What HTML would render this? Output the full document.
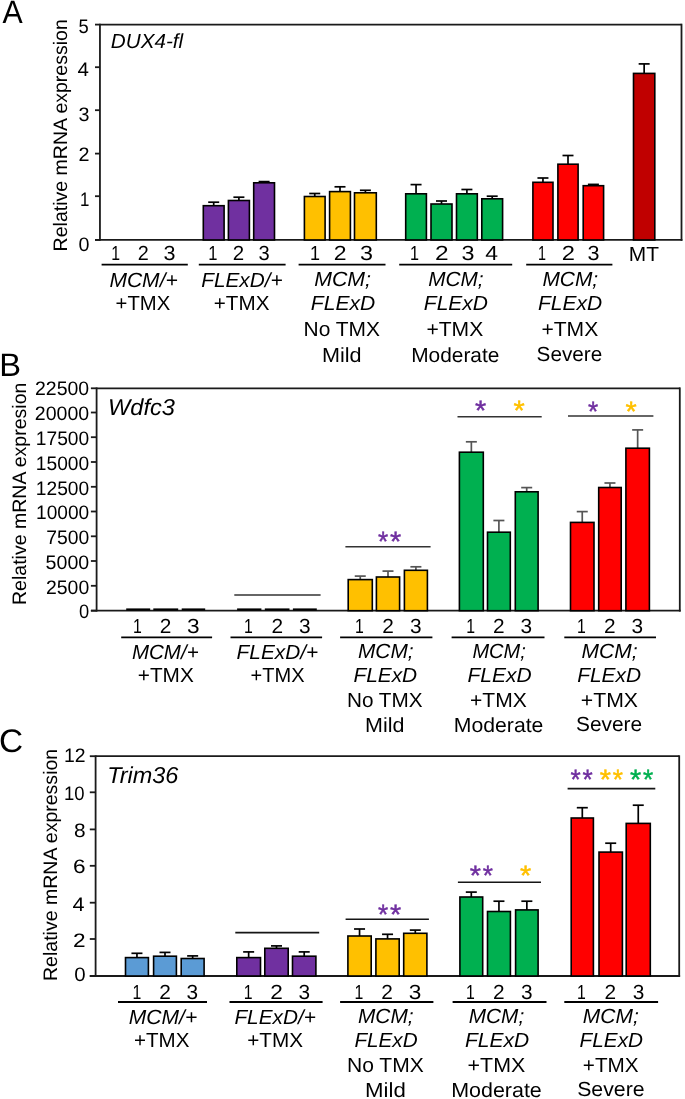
<!DOCTYPE html>
<html><head><meta charset="utf-8"><style>
html,body{margin:0;padding:0;background:#fff;width:685px;height:1099px;overflow:hidden}
svg{display:block;will-change:transform;filter:blur(0.35px)}
text{font-family:"Liberation Sans",sans-serif;text-rendering:geometricPrecision}
</style></head><body>
<svg width="685" height="1099" viewBox="0 0 685 1099">
<rect width="685" height="1099" fill="#fff"/>
<line x1="99.95" y1="24.60" x2="681.50" y2="24.60" stroke="#1a1a1a" stroke-width="1.8"/>
<line x1="681.50" y1="23.70" x2="681.50" y2="240.85" stroke="#1a1a1a" stroke-width="1.8"/>
<line x1="99.95" y1="23.70" x2="99.95" y2="240.85" stroke="#1a1a1a" stroke-width="1.8"/>
<line x1="95.00" y1="239.95" x2="682.40" y2="239.95" stroke="#1a1a1a" stroke-width="1.8"/>
<line x1="95.00" y1="24.60" x2="99.95" y2="24.60" stroke="#1a1a1a" stroke-width="1.8"/>
<line x1="95.00" y1="67.20" x2="99.95" y2="67.20" stroke="#1a1a1a" stroke-width="1.8"/>
<line x1="95.00" y1="110.20" x2="99.95" y2="110.20" stroke="#1a1a1a" stroke-width="1.8"/>
<line x1="95.00" y1="153.60" x2="99.95" y2="153.60" stroke="#1a1a1a" stroke-width="1.8"/>
<line x1="95.00" y1="196.20" x2="99.95" y2="196.20" stroke="#1a1a1a" stroke-width="1.8"/>
<line x1="95.00" y1="239.95" x2="99.95" y2="239.95" stroke="#1a1a1a" stroke-width="1.8"/>
<line x1="96.60" y1="388.30" x2="679.80" y2="388.30" stroke="#1a1a1a" stroke-width="1.8"/>
<line x1="679.80" y1="387.40" x2="679.80" y2="611.60" stroke="#1a1a1a" stroke-width="1.8"/>
<line x1="96.60" y1="387.40" x2="96.60" y2="611.60" stroke="#1a1a1a" stroke-width="1.8"/>
<line x1="90.90" y1="610.70" x2="680.70" y2="610.70" stroke="#1a1a1a" stroke-width="1.8"/>
<line x1="90.90" y1="388.30" x2="96.60" y2="388.30" stroke="#1a1a1a" stroke-width="1.8"/>
<line x1="90.90" y1="412.50" x2="96.60" y2="412.50" stroke="#1a1a1a" stroke-width="1.8"/>
<line x1="90.90" y1="437.20" x2="96.60" y2="437.20" stroke="#1a1a1a" stroke-width="1.8"/>
<line x1="90.90" y1="462.00" x2="96.60" y2="462.00" stroke="#1a1a1a" stroke-width="1.8"/>
<line x1="90.90" y1="486.80" x2="96.60" y2="486.80" stroke="#1a1a1a" stroke-width="1.8"/>
<line x1="90.90" y1="511.50" x2="96.60" y2="511.50" stroke="#1a1a1a" stroke-width="1.8"/>
<line x1="90.90" y1="536.30" x2="96.60" y2="536.30" stroke="#1a1a1a" stroke-width="1.8"/>
<line x1="90.90" y1="561.00" x2="96.60" y2="561.00" stroke="#1a1a1a" stroke-width="1.8"/>
<line x1="90.90" y1="585.80" x2="96.60" y2="585.80" stroke="#1a1a1a" stroke-width="1.8"/>
<line x1="90.90" y1="610.70" x2="96.60" y2="610.70" stroke="#1a1a1a" stroke-width="1.8"/>
<line x1="95.60" y1="756.20" x2="679.20" y2="756.20" stroke="#1a1a1a" stroke-width="1.8"/>
<line x1="679.20" y1="755.30" x2="679.20" y2="976.90" stroke="#1a1a1a" stroke-width="1.8"/>
<line x1="95.60" y1="755.30" x2="95.60" y2="976.90" stroke="#1a1a1a" stroke-width="1.8"/>
<line x1="89.80" y1="976.00" x2="680.10" y2="976.00" stroke="#1a1a1a" stroke-width="1.8"/>
<line x1="89.80" y1="756.20" x2="95.60" y2="756.20" stroke="#1a1a1a" stroke-width="1.8"/>
<line x1="89.80" y1="792.30" x2="95.60" y2="792.30" stroke="#1a1a1a" stroke-width="1.8"/>
<line x1="89.80" y1="829.40" x2="95.60" y2="829.40" stroke="#1a1a1a" stroke-width="1.8"/>
<line x1="89.80" y1="865.80" x2="95.60" y2="865.80" stroke="#1a1a1a" stroke-width="1.8"/>
<line x1="89.80" y1="902.70" x2="95.60" y2="902.70" stroke="#1a1a1a" stroke-width="1.8"/>
<line x1="89.80" y1="939.00" x2="95.60" y2="939.00" stroke="#1a1a1a" stroke-width="1.8"/>
<line x1="89.80" y1="976.00" x2="95.60" y2="976.00" stroke="#1a1a1a" stroke-width="1.8"/>
<line x1="213.70" y1="202.20" x2="213.70" y2="205.90" stroke="#000" stroke-width="1.7"/>
<line x1="208.20" y1="202.20" x2="219.20" y2="202.20" stroke="#000" stroke-width="1.7"/>
<rect x="203.30" y="205.70" width="20.80" height="34.25" fill="#7030A0" stroke="#000" stroke-width="1.6"/>
<line x1="238.90" y1="197.20" x2="238.90" y2="200.70" stroke="#000" stroke-width="1.7"/>
<line x1="233.40" y1="197.20" x2="244.40" y2="197.20" stroke="#000" stroke-width="1.7"/>
<rect x="228.40" y="200.50" width="21.00" height="39.45" fill="#7030A0" stroke="#000" stroke-width="1.6"/>
<line x1="264.10" y1="181.60" x2="264.10" y2="183.00" stroke="#000" stroke-width="1.7"/>
<line x1="258.60" y1="181.60" x2="269.60" y2="181.60" stroke="#000" stroke-width="1.7"/>
<rect x="253.70" y="182.80" width="20.80" height="57.15" fill="#7030A0" stroke="#000" stroke-width="1.6"/>
<line x1="314.75" y1="193.50" x2="314.75" y2="196.70" stroke="#000" stroke-width="1.7"/>
<line x1="309.25" y1="193.50" x2="320.25" y2="193.50" stroke="#000" stroke-width="1.7"/>
<rect x="304.40" y="196.50" width="20.70" height="43.45" fill="#FFC000" stroke="#000" stroke-width="1.6"/>
<line x1="340.00" y1="186.80" x2="340.00" y2="191.80" stroke="#000" stroke-width="1.7"/>
<line x1="334.50" y1="186.80" x2="345.50" y2="186.80" stroke="#000" stroke-width="1.7"/>
<rect x="329.60" y="191.60" width="20.80" height="48.35" fill="#FFC000" stroke="#000" stroke-width="1.6"/>
<line x1="365.40" y1="190.30" x2="365.40" y2="193.00" stroke="#000" stroke-width="1.7"/>
<line x1="359.90" y1="190.30" x2="370.90" y2="190.30" stroke="#000" stroke-width="1.7"/>
<rect x="354.50" y="192.80" width="21.80" height="47.15" fill="#FFC000" stroke="#000" stroke-width="1.6"/>
<line x1="416.05" y1="184.60" x2="416.05" y2="194.00" stroke="#000" stroke-width="1.7"/>
<line x1="410.55" y1="184.60" x2="421.55" y2="184.60" stroke="#000" stroke-width="1.7"/>
<rect x="405.70" y="193.80" width="20.70" height="46.15" fill="#00B050" stroke="#000" stroke-width="1.6"/>
<line x1="441.50" y1="201.00" x2="441.50" y2="204.20" stroke="#000" stroke-width="1.7"/>
<line x1="436.00" y1="201.00" x2="447.00" y2="201.00" stroke="#000" stroke-width="1.7"/>
<rect x="431.00" y="204.00" width="21.00" height="35.95" fill="#00B050" stroke="#000" stroke-width="1.6"/>
<line x1="466.90" y1="189.50" x2="466.90" y2="194.00" stroke="#000" stroke-width="1.7"/>
<line x1="461.40" y1="189.50" x2="472.40" y2="189.50" stroke="#000" stroke-width="1.7"/>
<rect x="456.50" y="193.80" width="20.80" height="46.15" fill="#00B050" stroke="#000" stroke-width="1.6"/>
<line x1="492.20" y1="196.20" x2="492.20" y2="199.00" stroke="#000" stroke-width="1.7"/>
<line x1="486.70" y1="196.20" x2="497.70" y2="196.20" stroke="#000" stroke-width="1.7"/>
<rect x="481.80" y="198.80" width="20.80" height="41.15" fill="#00B050" stroke="#000" stroke-width="1.6"/>
<line x1="542.95" y1="178.00" x2="542.95" y2="182.50" stroke="#000" stroke-width="1.7"/>
<line x1="537.45" y1="178.00" x2="548.45" y2="178.00" stroke="#000" stroke-width="1.7"/>
<rect x="532.90" y="182.30" width="20.10" height="57.65" fill="#FF0000" stroke="#000" stroke-width="1.6"/>
<line x1="568.00" y1="155.50" x2="568.00" y2="164.40" stroke="#000" stroke-width="1.7"/>
<line x1="562.50" y1="155.50" x2="573.50" y2="155.50" stroke="#000" stroke-width="1.7"/>
<rect x="557.90" y="164.20" width="20.20" height="75.75" fill="#FF0000" stroke="#000" stroke-width="1.6"/>
<line x1="593.40" y1="184.40" x2="593.40" y2="185.90" stroke="#000" stroke-width="1.7"/>
<line x1="587.90" y1="184.40" x2="598.90" y2="184.40" stroke="#000" stroke-width="1.7"/>
<rect x="583.20" y="185.70" width="20.40" height="54.25" fill="#FF0000" stroke="#000" stroke-width="1.6"/>
<line x1="644.15" y1="63.90" x2="644.15" y2="73.60" stroke="#000" stroke-width="1.7"/>
<line x1="638.65" y1="63.90" x2="649.65" y2="63.90" stroke="#000" stroke-width="1.7"/>
<rect x="633.50" y="73.40" width="21.30" height="166.55" fill="#C00000" stroke="#000" stroke-width="1.6"/>
<line x1="126.20" y1="609.50" x2="150.20" y2="609.50" stroke="#000" stroke-width="2.2"/>
<line x1="153.30" y1="609.50" x2="178.20" y2="609.50" stroke="#000" stroke-width="2.2"/>
<line x1="181.70" y1="609.50" x2="205.20" y2="609.50" stroke="#000" stroke-width="2.2"/>
<line x1="237.10" y1="609.50" x2="261.40" y2="609.50" stroke="#000" stroke-width="2.2"/>
<line x1="264.80" y1="609.50" x2="289.50" y2="609.50" stroke="#000" stroke-width="2.2"/>
<line x1="292.90" y1="609.50" x2="316.80" y2="609.50" stroke="#000" stroke-width="2.2"/>
<line x1="360.25" y1="576.10" x2="360.25" y2="579.80" stroke="#555" stroke-width="1.7"/>
<line x1="354.75" y1="576.10" x2="365.75" y2="576.10" stroke="#555" stroke-width="1.7"/>
<rect x="348.20" y="579.60" width="24.10" height="31.10" fill="#FFC000" stroke="#000" stroke-width="1.6"/>
<line x1="388.00" y1="571.10" x2="388.00" y2="577.20" stroke="#555" stroke-width="1.7"/>
<line x1="382.50" y1="571.10" x2="393.50" y2="571.10" stroke="#555" stroke-width="1.7"/>
<rect x="376.40" y="577.00" width="23.20" height="33.70" fill="#FFC000" stroke="#000" stroke-width="1.6"/>
<line x1="415.90" y1="566.80" x2="415.90" y2="570.50" stroke="#555" stroke-width="1.7"/>
<line x1="410.40" y1="566.80" x2="421.40" y2="566.80" stroke="#555" stroke-width="1.7"/>
<rect x="404.40" y="570.30" width="23.00" height="40.40" fill="#FFC000" stroke="#000" stroke-width="1.6"/>
<line x1="471.35" y1="441.80" x2="471.35" y2="452.40" stroke="#555" stroke-width="1.7"/>
<line x1="465.85" y1="441.80" x2="476.85" y2="441.80" stroke="#555" stroke-width="1.7"/>
<rect x="459.40" y="452.20" width="23.90" height="158.50" fill="#00B050" stroke="#000" stroke-width="1.6"/>
<line x1="498.90" y1="520.50" x2="498.90" y2="532.40" stroke="#555" stroke-width="1.7"/>
<line x1="493.40" y1="520.50" x2="504.40" y2="520.50" stroke="#555" stroke-width="1.7"/>
<rect x="487.50" y="532.20" width="22.80" height="78.50" fill="#00B050" stroke="#000" stroke-width="1.6"/>
<line x1="526.70" y1="487.60" x2="526.70" y2="492.00" stroke="#555" stroke-width="1.7"/>
<line x1="521.20" y1="487.60" x2="532.20" y2="487.60" stroke="#555" stroke-width="1.7"/>
<rect x="515.30" y="491.80" width="22.80" height="118.90" fill="#00B050" stroke="#000" stroke-width="1.6"/>
<line x1="582.25" y1="511.60" x2="582.25" y2="522.60" stroke="#555" stroke-width="1.7"/>
<line x1="576.75" y1="511.60" x2="587.75" y2="511.60" stroke="#555" stroke-width="1.7"/>
<rect x="570.50" y="522.40" width="23.50" height="88.30" fill="#FF0000" stroke="#000" stroke-width="1.6"/>
<line x1="609.95" y1="483.00" x2="609.95" y2="487.70" stroke="#555" stroke-width="1.7"/>
<line x1="604.45" y1="483.00" x2="615.45" y2="483.00" stroke="#555" stroke-width="1.7"/>
<rect x="598.70" y="487.50" width="22.50" height="123.20" fill="#FF0000" stroke="#000" stroke-width="1.6"/>
<line x1="637.65" y1="429.90" x2="637.65" y2="448.40" stroke="#555" stroke-width="1.7"/>
<line x1="632.15" y1="429.90" x2="643.15" y2="429.90" stroke="#555" stroke-width="1.7"/>
<rect x="625.90" y="448.20" width="23.50" height="162.50" fill="#FF0000" stroke="#000" stroke-width="1.6"/>
<line x1="234.30" y1="595.00" x2="320.60" y2="595.00" stroke="#333" stroke-width="1.6"/>
<line x1="345.40" y1="546.70" x2="430.60" y2="546.70" stroke="#333" stroke-width="1.6"/>
<line x1="457.50" y1="416.80" x2="541.70" y2="416.80" stroke="#333" stroke-width="1.6"/>
<line x1="568.00" y1="416.00" x2="653.40" y2="416.00" stroke="#333" stroke-width="1.6"/>
<line x1="136.95" y1="953.30" x2="136.95" y2="957.80" stroke="#000" stroke-width="1.7"/>
<line x1="131.45" y1="953.30" x2="142.45" y2="953.30" stroke="#000" stroke-width="1.7"/>
<rect x="125.50" y="957.60" width="22.90" height="18.40" fill="#5B9BD5" stroke="#000" stroke-width="1.6"/>
<line x1="165.00" y1="952.40" x2="165.00" y2="956.40" stroke="#000" stroke-width="1.7"/>
<line x1="159.50" y1="952.40" x2="170.50" y2="952.40" stroke="#000" stroke-width="1.7"/>
<rect x="153.60" y="956.20" width="22.80" height="19.80" fill="#5B9BD5" stroke="#000" stroke-width="1.6"/>
<line x1="192.65" y1="955.90" x2="192.65" y2="958.70" stroke="#000" stroke-width="1.7"/>
<line x1="187.15" y1="955.90" x2="198.15" y2="955.90" stroke="#000" stroke-width="1.7"/>
<rect x="181.20" y="958.50" width="22.90" height="17.50" fill="#5B9BD5" stroke="#000" stroke-width="1.6"/>
<line x1="248.65" y1="951.90" x2="248.65" y2="957.80" stroke="#000" stroke-width="1.7"/>
<line x1="243.15" y1="951.90" x2="254.15" y2="951.90" stroke="#000" stroke-width="1.7"/>
<rect x="236.80" y="957.60" width="23.70" height="18.40" fill="#7030A0" stroke="#000" stroke-width="1.6"/>
<line x1="276.50" y1="945.90" x2="276.50" y2="948.50" stroke="#000" stroke-width="1.7"/>
<line x1="271.00" y1="945.90" x2="282.00" y2="945.90" stroke="#000" stroke-width="1.7"/>
<rect x="264.80" y="948.30" width="23.40" height="27.70" fill="#7030A0" stroke="#000" stroke-width="1.6"/>
<line x1="304.20" y1="951.90" x2="304.20" y2="956.40" stroke="#000" stroke-width="1.7"/>
<line x1="298.70" y1="951.90" x2="309.70" y2="951.90" stroke="#000" stroke-width="1.7"/>
<rect x="292.50" y="956.20" width="23.40" height="19.80" fill="#7030A0" stroke="#000" stroke-width="1.6"/>
<line x1="359.55" y1="929.00" x2="359.55" y2="936.20" stroke="#000" stroke-width="1.7"/>
<line x1="354.05" y1="929.00" x2="365.05" y2="929.00" stroke="#000" stroke-width="1.7"/>
<rect x="347.90" y="936.00" width="23.30" height="40.00" fill="#FFC000" stroke="#000" stroke-width="1.6"/>
<line x1="387.55" y1="934.30" x2="387.55" y2="939.10" stroke="#000" stroke-width="1.7"/>
<line x1="382.05" y1="934.30" x2="393.05" y2="934.30" stroke="#000" stroke-width="1.7"/>
<rect x="375.90" y="938.90" width="23.30" height="37.10" fill="#FFC000" stroke="#000" stroke-width="1.6"/>
<line x1="415.30" y1="930.10" x2="415.30" y2="933.50" stroke="#000" stroke-width="1.7"/>
<line x1="409.80" y1="930.10" x2="420.80" y2="930.10" stroke="#000" stroke-width="1.7"/>
<rect x="403.70" y="933.30" width="23.20" height="42.70" fill="#FFC000" stroke="#000" stroke-width="1.6"/>
<line x1="471.30" y1="892.10" x2="471.30" y2="897.20" stroke="#000" stroke-width="1.7"/>
<line x1="465.80" y1="892.10" x2="476.80" y2="892.10" stroke="#000" stroke-width="1.7"/>
<rect x="459.90" y="897.00" width="22.80" height="79.00" fill="#00B050" stroke="#000" stroke-width="1.6"/>
<line x1="498.95" y1="901.20" x2="498.95" y2="911.70" stroke="#000" stroke-width="1.7"/>
<line x1="493.45" y1="901.20" x2="504.45" y2="901.20" stroke="#000" stroke-width="1.7"/>
<rect x="487.50" y="911.50" width="22.90" height="64.50" fill="#00B050" stroke="#000" stroke-width="1.6"/>
<line x1="526.85" y1="901.20" x2="526.85" y2="910.10" stroke="#000" stroke-width="1.7"/>
<line x1="521.35" y1="901.20" x2="532.35" y2="901.20" stroke="#000" stroke-width="1.7"/>
<rect x="515.60" y="909.90" width="22.50" height="66.10" fill="#00B050" stroke="#000" stroke-width="1.6"/>
<line x1="582.30" y1="807.70" x2="582.30" y2="818.20" stroke="#000" stroke-width="1.7"/>
<line x1="576.80" y1="807.70" x2="587.80" y2="807.70" stroke="#000" stroke-width="1.7"/>
<rect x="571.20" y="818.00" width="22.20" height="158.00" fill="#FF0000" stroke="#000" stroke-width="1.6"/>
<line x1="610.70" y1="843.20" x2="610.70" y2="852.30" stroke="#000" stroke-width="1.7"/>
<line x1="605.20" y1="843.20" x2="616.20" y2="843.20" stroke="#000" stroke-width="1.7"/>
<rect x="599.00" y="852.10" width="23.40" height="123.90" fill="#FF0000" stroke="#000" stroke-width="1.6"/>
<line x1="638.25" y1="805.20" x2="638.25" y2="823.60" stroke="#000" stroke-width="1.7"/>
<line x1="632.75" y1="805.20" x2="643.75" y2="805.20" stroke="#000" stroke-width="1.7"/>
<rect x="626.20" y="823.40" width="24.10" height="152.60" fill="#FF0000" stroke="#000" stroke-width="1.6"/>
<line x1="235.30" y1="932.60" x2="319.20" y2="932.60" stroke="#151515" stroke-width="1.6"/>
<line x1="345.60" y1="919.30" x2="428.90" y2="919.30" stroke="#151515" stroke-width="1.6"/>
<line x1="457.90" y1="882.20" x2="541.00" y2="882.20" stroke="#151515" stroke-width="1.6"/>
<line x1="567.60" y1="788.60" x2="655.30" y2="788.60" stroke="#151515" stroke-width="1.6"/>
<line x1="101.60" y1="264.60" x2="187.80" y2="264.60" stroke="#000" stroke-width="1.8"/>
<line x1="198.80" y1="264.60" x2="285.60" y2="264.60" stroke="#000" stroke-width="1.8"/>
<line x1="298.60" y1="264.60" x2="385.50" y2="264.60" stroke="#000" stroke-width="1.8"/>
<line x1="399.20" y1="264.60" x2="512.20" y2="264.60" stroke="#000" stroke-width="1.8"/>
<line x1="526.20" y1="264.60" x2="612.40" y2="264.60" stroke="#000" stroke-width="1.8"/>
<line x1="121.20" y1="637.30" x2="212.10" y2="637.30" stroke="#000" stroke-width="1.8"/>
<line x1="230.50" y1="637.30" x2="322.10" y2="637.30" stroke="#000" stroke-width="1.8"/>
<line x1="340.10" y1="637.30" x2="432.40" y2="637.30" stroke="#000" stroke-width="1.8"/>
<line x1="451.60" y1="637.30" x2="544.50" y2="637.30" stroke="#000" stroke-width="1.8"/>
<line x1="564.30" y1="637.30" x2="656.00" y2="637.30" stroke="#000" stroke-width="1.8"/>
<line x1="118.00" y1="1002.00" x2="207.00" y2="1002.00" stroke="#000" stroke-width="1.8"/>
<line x1="229.50" y1="1002.00" x2="322.60" y2="1002.00" stroke="#000" stroke-width="1.8"/>
<line x1="340.10" y1="1002.00" x2="433.40" y2="1002.00" stroke="#000" stroke-width="1.8"/>
<line x1="452.60" y1="1002.00" x2="546.50" y2="1002.00" stroke="#000" stroke-width="1.8"/>
<line x1="564.30" y1="1002.00" x2="658.10" y2="1002.00" stroke="#000" stroke-width="1.8"/>
<text x="378.00" y="550.65" font-size="28" fill="#7030A0" textLength="10.20" lengthAdjust="spacingAndGlyphs" stroke="#7030A0" stroke-width="0.45">*</text>
<text x="390.00" y="550.65" font-size="28" fill="#7030A0" textLength="11.20" lengthAdjust="spacingAndGlyphs" stroke="#7030A0" stroke-width="0.45">*</text>
<text x="475.00" y="419.85" font-size="28" fill="#7030A0" textLength="11.20" lengthAdjust="spacingAndGlyphs" stroke="#7030A0" stroke-width="0.45">*</text>
<text x="513.40" y="420.35" font-size="28" fill="#FFC000" textLength="11.20" lengthAdjust="spacingAndGlyphs" stroke="#FFC000" stroke-width="0.45">*</text>
<text x="588.00" y="421.15" font-size="28" fill="#7030A0" textLength="10.20" lengthAdjust="spacingAndGlyphs" stroke="#7030A0" stroke-width="0.45">*</text>
<text x="625.40" y="420.65" font-size="28" fill="#FFC000" textLength="11.20" lengthAdjust="spacingAndGlyphs" stroke="#FFC000" stroke-width="0.45">*</text>
<text x="378.00" y="924.10" font-size="28" fill="#7030A0" textLength="10.20" lengthAdjust="spacingAndGlyphs" stroke="#7030A0" stroke-width="0.45">*</text>
<text x="390.00" y="924.10" font-size="28" fill="#7030A0" textLength="11.20" lengthAdjust="spacingAndGlyphs" stroke="#7030A0" stroke-width="0.45">*</text>
<text x="469.80" y="884.50" font-size="28" fill="#7030A0" textLength="11.20" lengthAdjust="spacingAndGlyphs" stroke="#7030A0" stroke-width="0.45">*</text>
<text x="482.80" y="884.50" font-size="28" fill="#7030A0" textLength="10.20" lengthAdjust="spacingAndGlyphs" stroke="#7030A0" stroke-width="0.45">*</text>
<text x="520.00" y="885.00" font-size="28" fill="#FFC000" textLength="11.20" lengthAdjust="spacingAndGlyphs" stroke="#FFC000" stroke-width="0.45">*</text>
<text x="570.60" y="788.80" font-size="28" fill="#7030A0" textLength="10.20" lengthAdjust="spacingAndGlyphs" stroke="#7030A0" stroke-width="0.45">*</text>
<text x="582.60" y="788.80" font-size="28" fill="#7030A0" textLength="10.20" lengthAdjust="spacingAndGlyphs" stroke="#7030A0" stroke-width="0.45">*</text>
<text x="599.80" y="789.30" font-size="28" fill="#FFC000" textLength="11.20" lengthAdjust="spacingAndGlyphs" stroke="#FFC000" stroke-width="0.45">*</text>
<text x="612.80" y="789.30" font-size="28" fill="#FFC000" textLength="10.20" lengthAdjust="spacingAndGlyphs" stroke="#FFC000" stroke-width="0.45">*</text>
<text x="630.00" y="789.30" font-size="28" fill="#00B050" textLength="11.20" lengthAdjust="spacingAndGlyphs" stroke="#00B050" stroke-width="0.45">*</text>
<text x="643.00" y="789.30" font-size="28" fill="#00B050" textLength="10.20" lengthAdjust="spacingAndGlyphs" stroke="#00B050" stroke-width="0.45">*</text>
<text x="2.40" y="22.85" font-size="32.5" fill="#000" textLength="20.20" lengthAdjust="spacingAndGlyphs" >A</text>
<text x="-0.80" y="375.60" font-size="32.5" fill="#000" textLength="21.80" lengthAdjust="spacingAndGlyphs" >B</text>
<text x="-0.90" y="751.80" font-size="32.5" fill="#000" textLength="24.10" lengthAdjust="spacingAndGlyphs" >C</text>
<text x="110.80" y="48.10" font-size="20.5" fill="#000" textLength="72.40" lengthAdjust="spacingAndGlyphs" font-style="italic">DUX4-fl</text>
<text x="108.00" y="415.00" font-size="23" fill="#000" textLength="67.00" lengthAdjust="spacingAndGlyphs" font-style="italic">Wdfc3</text>
<text x="107.20" y="782.60" font-size="23" fill="#000" textLength="71.20" lengthAdjust="spacingAndGlyphs" font-style="italic">Trim36</text>
<text x="78.60" y="33.40" font-size="19.5" fill="#000" textLength="10.20" lengthAdjust="spacingAndGlyphs" >5</text>
<text x="77.40" y="75.60" font-size="19.5" fill="#000" textLength="11.40" lengthAdjust="spacingAndGlyphs" >4</text>
<text x="78.60" y="120.60" font-size="19.5" fill="#000" textLength="11.00" lengthAdjust="spacingAndGlyphs" >3</text>
<text x="78.60" y="161.00" font-size="19.5" fill="#000" textLength="11.00" lengthAdjust="spacingAndGlyphs" >2</text>
<text x="80.00" y="206.20" font-size="19.5" fill="#000" textLength="9.40" lengthAdjust="spacingAndGlyphs" >1</text>
<text x="78.60" y="251.40" font-size="19.5" fill="#000" textLength="11.00" lengthAdjust="spacingAndGlyphs" >0</text>
<text x="35.00" y="394.80" font-size="19.5" fill="#000" textLength="54.20" lengthAdjust="spacingAndGlyphs" >22500</text>
<text x="34.80" y="420.30" font-size="19.5" fill="#000" textLength="54.40" lengthAdjust="spacingAndGlyphs" >20000</text>
<text x="35.80" y="444.90" font-size="19.5" fill="#000" textLength="53.40" lengthAdjust="spacingAndGlyphs" >17500</text>
<text x="35.80" y="470.40" font-size="19.5" fill="#000" textLength="53.40" lengthAdjust="spacingAndGlyphs" >15000</text>
<text x="35.80" y="494.70" font-size="19.5" fill="#000" textLength="53.40" lengthAdjust="spacingAndGlyphs" >12500</text>
<text x="36.00" y="518.90" font-size="19.5" fill="#000" textLength="53.20" lengthAdjust="spacingAndGlyphs" >10000</text>
<text x="46.20" y="544.40" font-size="19.5" fill="#000" textLength="43.00" lengthAdjust="spacingAndGlyphs" >7500</text>
<text x="45.60" y="568.50" font-size="19.5" fill="#000" textLength="43.60" lengthAdjust="spacingAndGlyphs" >5000</text>
<text x="46.00" y="593.80" font-size="19.5" fill="#000" textLength="43.20" lengthAdjust="spacingAndGlyphs" >2500</text>
<text x="79.00" y="617.50" font-size="19.5" fill="#000" textLength="10.20" lengthAdjust="spacingAndGlyphs" >0</text>
<text x="64.00" y="762.40" font-size="19.5" fill="#000" textLength="21.60" lengthAdjust="spacingAndGlyphs" >12</text>
<text x="64.00" y="799.60" font-size="19.5" fill="#000" textLength="20.60" lengthAdjust="spacingAndGlyphs" >10</text>
<text x="74.00" y="837.40" font-size="19.5" fill="#000" textLength="11.60" lengthAdjust="spacingAndGlyphs" >8</text>
<text x="73.00" y="872.70" font-size="19.5" fill="#000" textLength="12.60" lengthAdjust="spacingAndGlyphs" >6</text>
<text x="72.60" y="910.80" font-size="19.5" fill="#000" textLength="12.00" lengthAdjust="spacingAndGlyphs" >4</text>
<text x="73.00" y="946.80" font-size="19.5" fill="#000" textLength="12.60" lengthAdjust="spacingAndGlyphs" >2</text>
<text x="74.20" y="981.00" font-size="19.5" fill="#000" textLength="11.40" lengthAdjust="spacingAndGlyphs" >0</text>
<text x="111.20" y="259.80" font-size="20.5" fill="#000" textLength="8.80" lengthAdjust="spacingAndGlyphs" >1</text>
<text x="137.80" y="259.80" font-size="20.5" fill="#000" textLength="11.00" lengthAdjust="spacingAndGlyphs" >2</text>
<text x="163.40" y="259.80" font-size="20.5" fill="#000" textLength="12.00" lengthAdjust="spacingAndGlyphs" >3</text>
<text x="208.20" y="259.80" font-size="20.5" fill="#000" textLength="9.20" lengthAdjust="spacingAndGlyphs" >1</text>
<text x="232.80" y="259.80" font-size="20.5" fill="#000" textLength="11.40" lengthAdjust="spacingAndGlyphs" >2</text>
<text x="258.60" y="259.80" font-size="20.5" fill="#000" textLength="11.20" lengthAdjust="spacingAndGlyphs" >3</text>
<text x="310.00" y="259.80" font-size="20.5" fill="#000" textLength="10.00" lengthAdjust="spacingAndGlyphs" >1</text>
<text x="333.80" y="259.80" font-size="20.5" fill="#000" textLength="12.80" lengthAdjust="spacingAndGlyphs" >2</text>
<text x="360.00" y="259.80" font-size="20.5" fill="#000" textLength="13.00" lengthAdjust="spacingAndGlyphs" >3</text>
<text x="410.00" y="259.80" font-size="20.5" fill="#000" textLength="9.00" lengthAdjust="spacingAndGlyphs" >1</text>
<text x="435.00" y="259.80" font-size="20.5" fill="#000" textLength="13.60" lengthAdjust="spacingAndGlyphs" >2</text>
<text x="461.60" y="259.80" font-size="20.5" fill="#000" textLength="13.00" lengthAdjust="spacingAndGlyphs" >3</text>
<text x="485.20" y="259.80" font-size="20.5" fill="#000" textLength="12.80" lengthAdjust="spacingAndGlyphs" >4</text>
<text x="538.00" y="259.80" font-size="20.5" fill="#000" textLength="8.00" lengthAdjust="spacingAndGlyphs" >1</text>
<text x="561.80" y="259.80" font-size="20.5" fill="#000" textLength="13.20" lengthAdjust="spacingAndGlyphs" >2</text>
<text x="587.40" y="259.80" font-size="20.5" fill="#000" textLength="12.00" lengthAdjust="spacingAndGlyphs" >3</text>
<text x="628.80" y="260.80" font-size="20.5" fill="#000" textLength="30.20" lengthAdjust="spacingAndGlyphs" >MT</text>
<text x="132.90" y="632.80" font-size="20.5" fill="#000" textLength="8.80" lengthAdjust="spacingAndGlyphs" >1</text>
<text x="159.70" y="632.80" font-size="20.5" fill="#000" textLength="11.60" lengthAdjust="spacingAndGlyphs" >2</text>
<text x="187.10" y="632.80" font-size="20.5" fill="#000" textLength="12.60" lengthAdjust="spacingAndGlyphs" >3</text>
<text x="244.00" y="632.80" font-size="20.5" fill="#000" textLength="8.80" lengthAdjust="spacingAndGlyphs" >1</text>
<text x="271.50" y="632.80" font-size="20.5" fill="#000" textLength="11.60" lengthAdjust="spacingAndGlyphs" >2</text>
<text x="298.90" y="632.80" font-size="20.5" fill="#000" textLength="11.60" lengthAdjust="spacingAndGlyphs" >3</text>
<text x="355.00" y="632.80" font-size="20.5" fill="#000" textLength="8.80" lengthAdjust="spacingAndGlyphs" >1</text>
<text x="382.20" y="632.80" font-size="20.5" fill="#000" textLength="11.60" lengthAdjust="spacingAndGlyphs" >2</text>
<text x="410.00" y="632.80" font-size="20.5" fill="#000" textLength="11.60" lengthAdjust="spacingAndGlyphs" >3</text>
<text x="466.20" y="632.80" font-size="20.5" fill="#000" textLength="8.80" lengthAdjust="spacingAndGlyphs" >1</text>
<text x="493.00" y="632.80" font-size="20.5" fill="#000" textLength="11.60" lengthAdjust="spacingAndGlyphs" >2</text>
<text x="520.60" y="632.80" font-size="20.5" fill="#000" textLength="11.60" lengthAdjust="spacingAndGlyphs" >3</text>
<text x="577.00" y="632.80" font-size="20.5" fill="#000" textLength="8.80" lengthAdjust="spacingAndGlyphs" >1</text>
<text x="604.10" y="632.80" font-size="20.5" fill="#000" textLength="11.60" lengthAdjust="spacingAndGlyphs" >2</text>
<text x="631.50" y="632.80" font-size="20.5" fill="#000" textLength="11.60" lengthAdjust="spacingAndGlyphs" >3</text>
<text x="132.40" y="998.60" font-size="20.5" fill="#000" textLength="8.80" lengthAdjust="spacingAndGlyphs" >1</text>
<text x="159.20" y="998.60" font-size="20.5" fill="#000" textLength="11.60" lengthAdjust="spacingAndGlyphs" >2</text>
<text x="186.50" y="998.60" font-size="20.5" fill="#000" textLength="11.60" lengthAdjust="spacingAndGlyphs" >3</text>
<text x="243.80" y="998.60" font-size="20.5" fill="#000" textLength="8.80" lengthAdjust="spacingAndGlyphs" >1</text>
<text x="270.20" y="998.60" font-size="20.5" fill="#000" textLength="12.60" lengthAdjust="spacingAndGlyphs" >2</text>
<text x="298.60" y="998.60" font-size="20.5" fill="#000" textLength="11.60" lengthAdjust="spacingAndGlyphs" >3</text>
<text x="354.60" y="998.60" font-size="20.5" fill="#000" textLength="8.80" lengthAdjust="spacingAndGlyphs" >1</text>
<text x="381.30" y="998.60" font-size="20.5" fill="#000" textLength="11.60" lengthAdjust="spacingAndGlyphs" >2</text>
<text x="408.80" y="998.60" font-size="20.5" fill="#000" textLength="12.60" lengthAdjust="spacingAndGlyphs" >3</text>
<text x="466.10" y="998.60" font-size="20.5" fill="#000" textLength="8.80" lengthAdjust="spacingAndGlyphs" >1</text>
<text x="493.10" y="998.60" font-size="20.5" fill="#000" textLength="11.60" lengthAdjust="spacingAndGlyphs" >2</text>
<text x="520.90" y="998.60" font-size="20.5" fill="#000" textLength="11.60" lengthAdjust="spacingAndGlyphs" >3</text>
<text x="577.10" y="998.60" font-size="20.5" fill="#000" textLength="8.80" lengthAdjust="spacingAndGlyphs" >1</text>
<text x="604.60" y="998.60" font-size="20.5" fill="#000" textLength="11.60" lengthAdjust="spacingAndGlyphs" >2</text>
<text x="632.70" y="998.60" font-size="20.5" fill="#000" textLength="11.60" lengthAdjust="spacingAndGlyphs" >3</text>
<text x="109.40" y="286.60" font-size="20.5" fill="#000" textLength="68.40" lengthAdjust="spacingAndGlyphs" font-style="italic">MCM/+</text>
<text x="115.60" y="310.40" font-size="20.5" fill="#000" textLength="54.60" lengthAdjust="spacingAndGlyphs" >+TMX</text>
<text x="201.20" y="286.60" font-size="20.5" fill="#000" textLength="81.40" lengthAdjust="spacingAndGlyphs" font-style="italic">FLExD/+</text>
<text x="213.80" y="310.40" font-size="20.5" fill="#000" textLength="55.60" lengthAdjust="spacingAndGlyphs" >+TMX</text>
<text x="314.20" y="285.60" font-size="20.5" fill="#000" textLength="56.80" lengthAdjust="spacingAndGlyphs" font-style="italic">MCM;</text>
<text x="310.80" y="310.40" font-size="20.5" fill="#000" textLength="64.40" lengthAdjust="spacingAndGlyphs" font-style="italic">FLExD</text>
<text x="303.60" y="336.20" font-size="20.5" fill="#000" textLength="76.40" lengthAdjust="spacingAndGlyphs" >No TMX</text>
<text x="322.00" y="361.60" font-size="20.5" fill="#000" textLength="39.60" lengthAdjust="spacingAndGlyphs" >Mild</text>
<text x="428.20" y="285.60" font-size="20.5" fill="#000" textLength="55.40" lengthAdjust="spacingAndGlyphs" font-style="italic">MCM;</text>
<text x="423.80" y="310.40" font-size="20.5" fill="#000" textLength="64.20" lengthAdjust="spacingAndGlyphs" font-style="italic">FLExD</text>
<text x="426.40" y="336.20" font-size="20.5" fill="#000" textLength="56.80" lengthAdjust="spacingAndGlyphs" >+TMX</text>
<text x="411.20" y="361.60" font-size="20.5" fill="#000" textLength="88.20" lengthAdjust="spacingAndGlyphs" >Moderate</text>
<text x="542.40" y="285.60" font-size="20.5" fill="#000" textLength="55.80" lengthAdjust="spacingAndGlyphs" font-style="italic">MCM;</text>
<text x="538.00" y="310.40" font-size="20.5" fill="#000" textLength="64.20" lengthAdjust="spacingAndGlyphs" font-style="italic">FLExD</text>
<text x="541.40" y="336.20" font-size="20.5" fill="#000" textLength="56.80" lengthAdjust="spacingAndGlyphs" >+TMX</text>
<text x="536.60" y="360.60" font-size="20.5" fill="#000" textLength="65.60" lengthAdjust="spacingAndGlyphs" >Severe</text>
<text x="132.00" y="659.00" font-size="20.5" fill="#000" textLength="66.60" lengthAdjust="spacingAndGlyphs" font-style="italic">MCM/+</text>
<text x="137.80" y="682.00" font-size="20.5" fill="#000" textLength="56.00" lengthAdjust="spacingAndGlyphs" >+TMX</text>
<text x="236.60" y="659.00" font-size="20.5" fill="#000" textLength="81.60" lengthAdjust="spacingAndGlyphs" font-style="italic">FLExD/+</text>
<text x="250.60" y="682.00" font-size="20.5" fill="#000" textLength="54.00" lengthAdjust="spacingAndGlyphs" >+TMX</text>
<text x="358.00" y="658.00" font-size="20.5" fill="#000" textLength="55.60" lengthAdjust="spacingAndGlyphs" font-style="italic">MCM;</text>
<text x="353.40" y="682.00" font-size="20.5" fill="#000" textLength="63.80" lengthAdjust="spacingAndGlyphs" font-style="italic">FLExD</text>
<text x="347.00" y="707.00" font-size="20.5" fill="#000" textLength="75.60" lengthAdjust="spacingAndGlyphs" >No TMX</text>
<text x="365.00" y="732.40" font-size="20.5" fill="#000" textLength="39.40" lengthAdjust="spacingAndGlyphs" >Mild</text>
<text x="472.40" y="658.00" font-size="20.5" fill="#000" textLength="53.40" lengthAdjust="spacingAndGlyphs" font-style="italic">MCM;</text>
<text x="467.40" y="682.00" font-size="20.5" fill="#000" textLength="64.20" lengthAdjust="spacingAndGlyphs" font-style="italic">FLExD</text>
<text x="470.00" y="707.00" font-size="20.5" fill="#000" textLength="56.80" lengthAdjust="spacingAndGlyphs" >+TMX</text>
<text x="453.80" y="732.40" font-size="20.5" fill="#000" textLength="89.60" lengthAdjust="spacingAndGlyphs" >Moderate</text>
<text x="581.60" y="658.00" font-size="20.5" fill="#000" textLength="56.00" lengthAdjust="spacingAndGlyphs" font-style="italic">MCM;</text>
<text x="577.20" y="682.00" font-size="20.5" fill="#000" textLength="64.00" lengthAdjust="spacingAndGlyphs" font-style="italic">FLExD</text>
<text x="580.80" y="707.00" font-size="20.5" fill="#000" textLength="57.20" lengthAdjust="spacingAndGlyphs" >+TMX</text>
<text x="576.00" y="731.40" font-size="20.5" fill="#000" textLength="66.20" lengthAdjust="spacingAndGlyphs" >Severe</text>
<text x="128.80" y="1023.60" font-size="20.5" fill="#000" textLength="68.40" lengthAdjust="spacingAndGlyphs" font-style="italic">MCM/+</text>
<text x="134.00" y="1047.40" font-size="20.5" fill="#000" textLength="55.40" lengthAdjust="spacingAndGlyphs" >+TMX</text>
<text x="234.40" y="1023.60" font-size="20.5" fill="#000" textLength="81.60" lengthAdjust="spacingAndGlyphs" font-style="italic">FLExD/+</text>
<text x="247.20" y="1047.40" font-size="20.5" fill="#000" textLength="55.80" lengthAdjust="spacingAndGlyphs" >+TMX</text>
<text x="358.00" y="1022.60" font-size="20.5" fill="#000" textLength="55.60" lengthAdjust="spacingAndGlyphs" font-style="italic">MCM;</text>
<text x="354.40" y="1047.40" font-size="20.5" fill="#000" textLength="63.20" lengthAdjust="spacingAndGlyphs" font-style="italic">FLExD</text>
<text x="347.00" y="1071.60" font-size="20.5" fill="#000" textLength="76.80" lengthAdjust="spacingAndGlyphs" >No TMX</text>
<text x="365.00" y="1097.00" font-size="20.5" fill="#000" textLength="40.80" lengthAdjust="spacingAndGlyphs" >Mild</text>
<text x="468.80" y="1022.60" font-size="20.5" fill="#000" textLength="55.40" lengthAdjust="spacingAndGlyphs" font-style="italic">MCM;</text>
<text x="465.00" y="1047.40" font-size="20.5" fill="#000" textLength="64.20" lengthAdjust="spacingAndGlyphs" font-style="italic">FLExD</text>
<text x="467.60" y="1071.60" font-size="20.5" fill="#000" textLength="57.60" lengthAdjust="spacingAndGlyphs" >+TMX</text>
<text x="451.20" y="1097.00" font-size="20.5" fill="#000" textLength="90.60" lengthAdjust="spacingAndGlyphs" >Moderate</text>
<text x="582.80" y="1022.60" font-size="20.5" fill="#000" textLength="56.00" lengthAdjust="spacingAndGlyphs" font-style="italic">MCM;</text>
<text x="579.60" y="1047.40" font-size="20.5" fill="#000" textLength="63.40" lengthAdjust="spacingAndGlyphs" font-style="italic">FLExD</text>
<text x="582.80" y="1071.60" font-size="20.5" fill="#000" textLength="55.80" lengthAdjust="spacingAndGlyphs" >+TMX</text>
<text x="577.20" y="1096.00" font-size="20.5" fill="#000" textLength="67.40" lengthAdjust="spacingAndGlyphs" >Severe</text>
<text transform="translate(67.00 251.40) rotate(-90)" x="0" y="0" font-size="19.5" textLength="232.20" lengthAdjust="spacingAndGlyphs">Relative mRNA expression</text>
<text transform="translate(25.50 605.00) rotate(-90)" x="0" y="0" font-size="19.5" textLength="222.40" lengthAdjust="spacingAndGlyphs">Relative mRNA expresion</text>
<text transform="translate(56.90 981.00) rotate(-90)" x="0" y="0" font-size="19.5" textLength="232.20" lengthAdjust="spacingAndGlyphs">Relative mRNA expression</text>
</svg>
</body></html>
